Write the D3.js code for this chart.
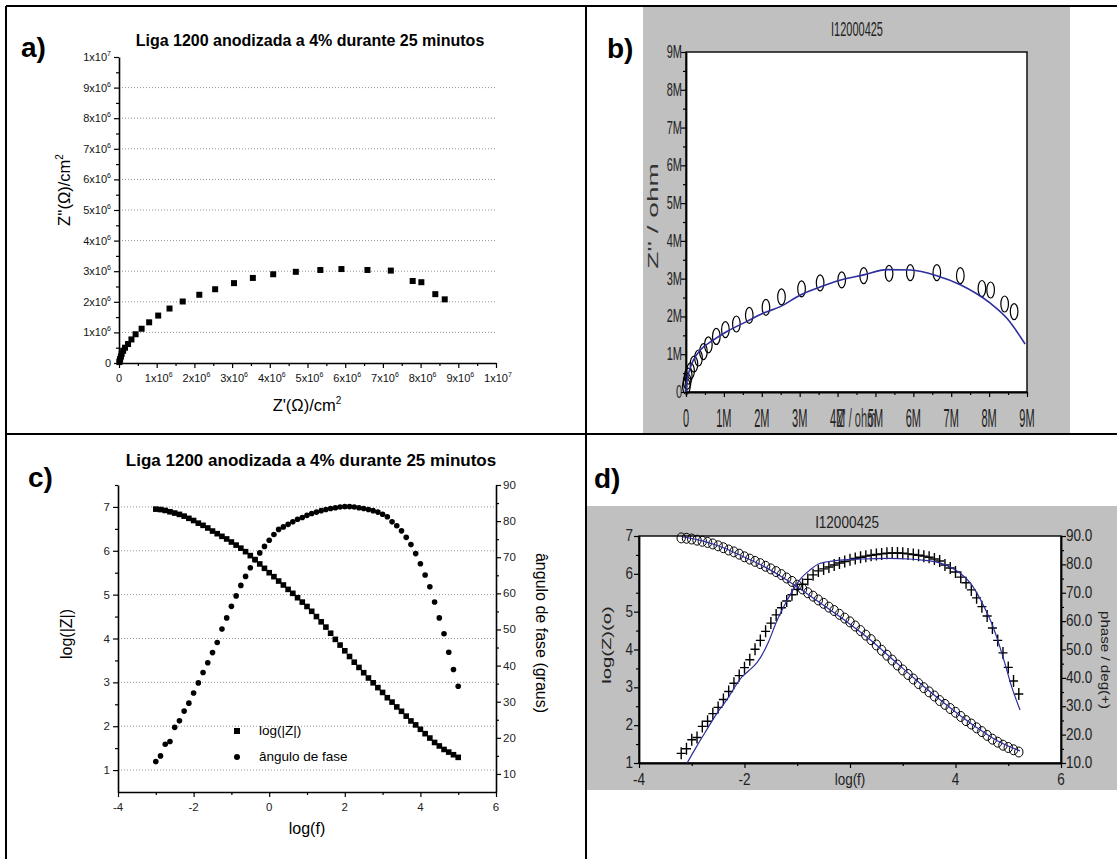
<!DOCTYPE html>
<html>
<head>
<meta charset="utf-8">
<script src="https://cdn.jsdelivr.net/npm/d3@7"></script>
<style>
  body { margin: 0; background: #fff; }
  svg { display: block; }
  text { font-family: "Liberation Sans", Arial, Helvetica, sans-serif; }
</style>
</head>
<body>
<svg id="fig" width="1117" height="859"></svg>
<script>
// ---------------- data ----------------
// Nyquist, panel a (values in 10^6 ohm/cm2)
const nyqA_re = [8.64,8.39,8.02,7.79,7.21,6.59,5.90,5.34,4.69,4.09,3.55,3.05,2.55,2.13,1.69,1.34,1.04,0.80,0.60,0.44,0.33,0.24,0.16,0.11,0.07,0.05,0.03,0.02,0.01];
const nyqA_im = [2.08,2.25,2.64,2.68,3.02,3.04,3.07,3.04,2.98,2.90,2.78,2.61,2.41,2.23,2.01,1.78,1.55,1.33,1.12,0.94,0.77,0.62,0.50,0.40,0.30,0.21,0.13,0.07,0.03];

// Nyquist, panel b (values in M ohm)
const nyqB_re = [8.66,8.41,8.04,7.81,7.24,6.62,5.92,5.36,4.69,4.11,3.54,3.05,2.52,2.11,1.67,1.33,1.04,0.80,0.59,0.46,0.33,0.21,0.12,0.06,0.03,0.01];
const nyqB_im = [2.13,2.33,2.70,2.74,3.08,3.16,3.16,3.14,3.08,2.97,2.89,2.73,2.52,2.24,2.03,1.80,1.65,1.47,1.25,1.07,0.90,0.74,0.56,0.42,0.28,0.15];
// fitted equivalent-circuit curve, panel b
const fitB_re = [0,0.02,0.07,0.2,0.38,0.73,1.08,1.61,2.05,2.49,3.02,3.54,4.11,4.69,5.30,5.92,6.62,7.24,8.03,8.47,8.95];
const fitB_im = [0,0.25,0.50,0.85,1.11,1.38,1.60,1.87,2.09,2.26,2.57,2.78,2.97,3.10,3.24,3.23,3.08,2.84,2.35,1.95,1.27];

// Bode data (panels c and d)
const bodeLogF = [-3,-2.875,-2.75,-2.625,-2.5,-2.375,-2.25,-2.125,-2,-1.875,-1.75,-1.625,-1.5,-1.375,-1.25,-1.125,-1,-0.875,-0.75,-0.625,-0.5,-0.375,-0.25,-0.125,0,0.125,0.25,0.375,0.5,0.625,0.75,0.875,1,1.125,1.25,1.375,1.5,1.625,1.75,1.875,2,2.125,2.25,2.375,2.5,2.625,2.75,2.875,3,3.125,3.25,3.375,3.5,3.625,3.75,3.875,4,4.125,4.25,4.375,4.5,4.625,4.75,4.875,5];
const bodeLogZ = [6.95,6.94,6.92,6.89,6.86,6.83,6.79,6.74,6.69,6.63,
                  6.58,6.52,6.45,6.39,6.33,6.27,6.20,6.13,6.06,5.98,
                  5.89,5.80,5.70,5.60,5.50,5.41,5.31,5.22,5.12,5.03,
                  4.93,4.83,4.73,4.62,4.50,4.38,4.26,4.12,3.98,3.85,
                  3.72,3.59,3.46,3.34,3.22,3.10,2.99,2.88,2.77,2.65,
                  2.55,2.44,2.34,2.23,2.12,2.03,1.93,1.83,1.73,1.63,
                  1.55,1.47,1.41,1.35,1.29];
const bodePhase = [13.4,15.0,18.2,19.0,22.9,24.7,27.4,29.6,32.4,35.2,
                   38.1,40.8,43.6,46.4,50.1,53.2,56.4,59.3,62.2,64.7,
                   67.1,69.3,71.2,73.0,74.7,76.3,77.7,78.4,79.1,79.8,
                   80.5,81.0,81.6,82.1,82.5,82.9,83.2,83.5,83.7,83.9,
                   84.0,84.0,83.9,83.7,83.5,83.2,82.9,82.5,81.9,81.2,
                   79.8,78.7,77.3,75.5,73.5,71.0,68.2,65.1,61.8,57.6,
                   53.2,48.8,43.7,38.9,34.3];
// fitted curves, panel d
const fitZ_logF = [-2.96,-2.5,-2,-1.5,-1,-0.5,0,0.5,1,1.5,2,2.5,3,3.5,4,4.5,5.03];
const fitZ_logZ = [6.98,6.87,6.69,6.44,6.17,5.84,5.46,5.07,4.67,4.24,3.75,3.26,2.79,2.35,1.94,1.58,1.32];
const fitP_logF = [-2.86,-2.64,-2.40,-2.15,-1.91,-1.70,-1.55,-1.40,-1.20,-1.05,-0.93,-0.75,-0.53,-0.35,-0.20,0.05,0.28,0.77,1.3,1.9,2.4,2.72,3.1,3.37,3.62,3.86,4.02,4.18,4.35,4.50,4.67,4.83,5.03];
const fitP_phase = [10,15.7,21.6,27.6,32.5,37.5,40.5,42.5,45.5,49,52.7,59.5,66.2,71,74.4,78,80.3,81.5,81.9,82.1,81.9,81.5,80.6,79.1,76.8,73.3,69.5,65.0,59.5,53.3,45.1,36.9,28.7];

// tick values and labels
const aTickVals = [0,1,2,3,4,5,6,7,8,9,10];
const aTickMant = ["0","1x10","2x10","3x10","4x10","5x10","6x10","7x10","8x10","9x10","1x10"];
const aTickExp  = ["","6","6","6","6","6","6","6","6","6","7"];
const aMinor = [0.5,1.5,2.5,3.5,4.5,5.5,6.5,7.5,8.5,9.5];
const aGrid = [1,2,3,4,5,6,7,8,9];

const bTickVals = [0,1,2,3,4,5,6,7,8,9];
const bTickLabels = ["0","1M","2M","3M","4M","5M","6M","7M","8M","9M"];
const bMinor = [0.5,1.5,2.5,3.5,4.5,5.5,6.5,7.5,8.5];

const cFTicks = [-4,-2,0,2,4,6];
const cFMinor = [-3,-1,1,3,5];
const cZTicks = [1,2,3,4,5,6,7];
const cZMinor = [1.5,2.5,3.5,4.5,5.5,6.5,7.5];
const cPTicks = [10,20,30,40,50,60,70,80,90];
const cPMinor = [15,25,35,45,55,65,75,85];

const dFTicks = [-4,-1.5,1,3.5,6];
const dFLabels = ["-4","-2","","4","6"];
const dFMinor = [-2.75,-0.25,2.25,4.75];
const dZTicks = [1,2,3,4,5,6,7];
const dZMinor = [1.5,2.5,3.5,4.5,5.5,6.5];
const dPTicks = [10,20,30,40,50,60,70,80,90];
const dPLabels = ["10.0","20.0","30.0","40.0","50.0","60.0","70.0","80.0","90.0"];
const dPMinor = [15,25,35,45,55,65,75,85];

const titleAC = "Liga 1200 anodizada a 4% durante 25 minutos";
const titleBD = "I12000425";

// ---------------- helpers ----------------
const svg = d3.select("#fig");
const BLUE = "#2d2d9e";
const GRAY = "#c0c0c0";

function addAxis(parent, orient, scale, translate, majorVals, minorVals, o) {
  const mk = {left: d3.axisLeft, right: d3.axisRight, bottom: d3.axisBottom, top: d3.axisTop}[orient];
  const g = parent.append("g").attr("transform", translate)
    .call(mk(scale).tickValues(majorVals).tickSize(o.major).tickSizeOuter(0).tickFormat(""));
  g.select(".domain").attr("stroke-width", o.w).attr("stroke", "#000");
  g.selectAll(".tick line").attr("stroke-width", o.tw).attr("stroke", "#000");
  const m = parent.append("g").attr("transform", translate)
    .call(mk(scale).tickValues(minorVals).tickSize(o.minor).tickSizeOuter(0).tickFormat(""));
  m.select(".domain").remove();
  m.selectAll(".tick line").attr("stroke-width", o.tw).attr("stroke", "#000");
  return g;
}

// text drawn in a transformed group (used for the stretched instrument-software lettering)
function sText(parent, x, y, str, o) {
  let tr = `translate(${x},${y}) scale(${o.sx || 1},${o.sy || 1})`;
  if (o.rot) tr += ` rotate(${o.rot})`;
  const t = parent.append("g").attr("transform", tr).append("text")
    .attr("text-anchor", o.anchor || "middle")
    .attr("font-size", o.size)
    .attr("fill", o.fill || "#000")
    .text(str);
  if (o.dy) t.attr("dy", o.dy);
  if (o.weight) t.attr("font-weight", o.weight);
  return t;
}

// ---------------- frame ----------------
const frame = svg.append("g").attr("stroke", "#000").attr("stroke-width", 2);
[[6,6,1117,6],[6,6,6,859],[586,6,586,859],[6,434,1117,434]].forEach(l =>
  frame.append("line").attr("x1", l[0]).attr("y1", l[1]).attr("x2", l[2]).attr("y2", l[3]));

// ================= panel a =================
{
  const g = svg.append("g");
  const x = d3.scaleLinear([0, 10], [119, 496]);
  const y = d3.scaleLinear([0, 10], [363, 57]);

  sText(g, 21, 57, "a)", {size: 28, anchor: "start", weight: "bold"});
  sText(g, 310, 46, titleAC, {size: 16, weight: "bold"});

  g.append("g").selectAll("line").data(aGrid).join("line")
    .attr("x1", x(0)).attr("x2", x(10)).attr("y1", d => y(d)).attr("y2", d => y(d))
    .attr("stroke", "#777").attr("stroke-width", 0.8).attr("stroke-dasharray", "1,2");

  const ax = {major: 5, minor: 3, w: 1.6, tw: 1.2};
  addAxis(g, "left", y, `translate(${x(0)},0)`, aTickVals, aMinor, ax);
  addAxis(g, "bottom", x, `translate(0,${y(0)})`, aTickVals, aMinor, ax);

  // y tick labels
  aTickVals.forEach((v, i) => {
    const t = g.append("text").attr("x", 111).attr("y", y(v) + 4)
      .attr("text-anchor", "end").attr("font-size", 11).attr("fill", "#111");
    t.append("tspan").text(aTickMant[i]);
    if (aTickExp[i]) t.append("tspan").attr("dy", -5).attr("font-size", 7).text(aTickExp[i]);
  });
  // x tick labels
  aTickVals.forEach((v, i) => {
    const t = g.append("text").attr("x", x(v) + (aTickExp[i] ? 2 : 0)).attr("y", 382)
      .attr("text-anchor", "middle").attr("font-size", 11).attr("fill", "#111");
    t.append("tspan").text(aTickMant[i]);
    if (aTickExp[i]) t.append("tspan").attr("dy", -5).attr("font-size", 7).text(aTickExp[i]);
  });

  // axis titles
  const xl = g.append("text").attr("x", 307).attr("y", 411).attr("text-anchor", "middle").attr("font-size", 16.5);
  xl.append("tspan").text("Z'(\u03A9)/cm");
  xl.append("tspan").attr("dy", -7).attr("font-size", 10).text("2");
  const yl = g.append("text").attr("transform", "translate(70,190) rotate(-90)").attr("text-anchor", "middle").attr("font-size", 16.5);
  yl.append("tspan").text("Z''(\u03A9)/cm");
  yl.append("tspan").attr("dy", -7).attr("font-size", 10).text("2");

  g.append("g").selectAll("rect").data(nyqA_re).join("rect")
    .attr("x", (d) => x(d) - 3).attr("y", (d, i) => y(nyqA_im[i]) - 3)
    .attr("width", 6).attr("height", 6).attr("fill", "#000");
}

// ================= panel b =================
{
  const g = svg.append("g");
  g.append("rect").attr("x", 643).attr("y", 7).attr("width", 427).attr("height", 426).attr("fill", GRAY);
  const x = d3.scaleLinear([0, 9], [686, 1027]);
  const y = d3.scaleLinear([0, 9], [392, 52]);
  g.append("rect").attr("x", x(0)).attr("y", y(9)).attr("width", x(9) - x(0)).attr("height", y(0) - y(9))
    .attr("fill", "#fff").attr("stroke", "#111").attr("stroke-width", 1.5);

  sText(g, 607, 58, "b)", {size: 28, anchor: "start", weight: "bold"});
  sText(g, 857, 36, titleBD, {size: 11, sy: 1.9, fill: "#222"});

  const ax = {major: 5, minor: 3, w: 1.8, tw: 1.2};
  addAxis(g, "left", y, `translate(${x(0)},0)`, bTickVals, bMinor, ax);
  addAxis(g, "bottom", x, `translate(0,${y(0)})`, bTickVals, bMinor, ax);

  bTickVals.forEach((v, i) => {
    sText(g, 682, y(v) + 6, bTickLabels[i], {size: 11, sy: 1.6, anchor: "end", fill: "#222"});
    sText(g, x(v), 427, bTickLabels[i], {size: 11, sy: 2.4, fill: "#222"});
  });
  // the software centres the axis title on the axis, over the middle tick labels
  sText(g, (x(0) + x(9)) / 2, 427, "Z' / ohm", {size: 11, sy: 2.4, fill: "#333"});
  sText(g, 658, 216, "Z'' / ohm", {size: 14, sy: 2.0, rot: -90, fill: "#333"});

  g.append("g").selectAll("ellipse").data(nyqB_re).join("ellipse")
    .attr("cx", d => x(d)).attr("cy", (d, i) => y(nyqB_im[i]))
    .attr("rx", 3.8).attr("ry", 8).attr("fill", "none").attr("stroke", "#000").attr("stroke-width", 1.2);

  const line = d3.line().x(d => x(d[0])).y(d => y(d[1])).curve(d3.curveMonotoneX);
  g.append("path").datum(fitB_re.map((d, i) => [d, fitB_im[i]]))
    .attr("d", line).attr("fill", "none").attr("stroke", BLUE).attr("stroke-width", 1.6);
}

// ================= panel c =================
{
  const g = svg.append("g");
  const x = d3.scaleLinear([-4, 6], [118, 496]);
  const yL = d3.scaleLinear([0.5, 7.5], [792, 485]);
  const yR = d3.scaleLinear([5, 90], [792, 485]);

  sText(g, 28, 487, "c)", {size: 28, anchor: "start", weight: "bold"});
  sText(g, 311, 466, titleAC, {size: 17, weight: "bold"});

  g.append("g").selectAll("line").data(cZTicks).join("line")
    .attr("x1", x(-4)).attr("x2", x(6)).attr("y1", d => yL(d)).attr("y2", d => yL(d))
    .attr("stroke", "#777").attr("stroke-width", 0.8).attr("stroke-dasharray", "1,2");

  const ax = {major: 5, minor: 3, w: 1.6, tw: 1.2};
  addAxis(g, "left", yL, `translate(${x(-4)},0)`, cZTicks, cZMinor, ax);
  addAxis(g, "right", yR, `translate(${x(6)},0)`, cPTicks, cPMinor, ax);
  addAxis(g, "bottom", x, `translate(0,${yL(0.5)})`, cFTicks, cFMinor, ax);

  cZTicks.forEach(v => g.append("text").attr("x", 110).attr("y", yL(v) + 4)
    .attr("text-anchor", "end").attr("font-size", 11.5).attr("fill", "#222").text(v));
  cPTicks.forEach(v => g.append("text").attr("x", 503).attr("y", yR(v) + 4)
    .attr("text-anchor", "start").attr("font-size", 11.5).attr("fill", "#222").text(v));
  cFTicks.forEach(v => g.append("text").attr("x", x(v)).attr("y", 811)
    .attr("text-anchor", "middle").attr("font-size", 11.5).attr("fill", "#222").text(v));

  g.append("text").attr("x", 307).attr("y", 834).attr("text-anchor", "middle").attr("font-size", 16).text("log(f)");
  g.append("text").attr("transform", "translate(72,634) rotate(-90)").attr("text-anchor", "middle").attr("font-size", 16).text("log(|Z|)");
  g.append("text").attr("transform", "translate(536,633) rotate(90)").attr("text-anchor", "middle").attr("font-size", 16).text("\u00e2ngulo de fase (graus)");

  g.append("g").selectAll("rect").data(bodeLogF).join("rect")
    .attr("x", d => x(d) - 2.8).attr("y", (d, i) => yL(bodeLogZ[i]) - 2.8)
    .attr("width", 5.6).attr("height", 5.6).attr("fill", "#000");
  g.append("g").selectAll("circle").data(bodeLogF).join("circle")
    .attr("cx", d => x(d)).attr("cy", (d, i) => yR(bodePhase[i])).attr("r", 2.8).attr("fill", "#000");

  // legend
  g.append("rect").attr("x", 237 - 3).attr("y", 731 - 3).attr("width", 6).attr("height", 6).attr("fill", "#000");
  g.append("circle").attr("cx", 237).attr("cy", 757).attr("r", 3).attr("fill", "#000");
  g.append("text").attr("x", 259).attr("y", 735).attr("font-size", 13.5).text("log(|Z|)");
  g.append("text").attr("x", 259).attr("y", 761).attr("font-size", 13.5).text("\u00e2ngulo de fase");
}

// ================= panel d =================
{
  const g = svg.append("g");
  g.append("rect").attr("x", 587).attr("y", 506).attr("width", 530).attr("height", 284).attr("fill", GRAY);
  const x = d3.scaleLinear([-4, 6], [639, 1061]);
  const yL = d3.scaleLinear([1, 7], [763, 536]);
  const yR = d3.scaleLinear([10, 90], [763, 536]);
  g.append("rect").attr("x", x(-4)).attr("y", yL(7)).attr("width", x(6) - x(-4)).attr("height", yL(1) - yL(7))
    .attr("fill", "#fff").attr("stroke", "#111").attr("stroke-width", 1.5);

  sText(g, 594, 488, "d)", {size: 28, anchor: "start", weight: "bold"});
  sText(g, 847, 528, titleBD, {size: 13.5, sy: 1.25, fill: "#222"});

  const ax = {major: 5, minor: 3, w: 1.8, tw: 1.2};
  addAxis(g, "left", yL, `translate(${x(-4)},0)`, dZTicks, dZMinor, ax);
  addAxis(g, "right", yR, `translate(${x(6)},0)`, dPTicks, dPMinor, ax);
  addAxis(g, "bottom", x, `translate(0,${yL(1)})`, dFTicks, dFMinor, ax);

  dZTicks.forEach(v => sText(g, 633, yL(v) + 5, String(v), {size: 13.5, sy: 1.25, anchor: "end", fill: "#222"}));
  dPTicks.forEach((v, i) => sText(g, 1066, yR(v) + 5, dPLabels[i], {size: 13.5, sy: 1.25, anchor: "start", fill: "#222"}));
  dFTicks.forEach((v, i) => { if (dFLabels[i]) sText(g, x(v), 785, dFLabels[i], {size: 13.5, sy: 1.25, fill: "#222"}); });
  sText(g, x(1), 785, "log(f)", {size: 13.5, sy: 1.25, fill: "#222"});
  sText(g, 611, 645, "log(Z)(o)", {size: 13.5, sy: 1.5, rot: -90, fill: "#222"});
  sText(g, 1101, 660, "phase / deg(+)", {size: 13.5, sy: 1.12, rot: 90, fill: "#222"});

  // |Z| markers (open circles)
  g.append("g").selectAll("ellipse").data(bodeLogF).join("ellipse")
    .attr("cx", d => x(d)).attr("cy", (d, i) => yL(bodeLogZ[i]))
    .attr("rx", 4.2).attr("ry", 5).attr("fill", "none").attr("stroke", "#000").attr("stroke-width", 1);
  // phase markers (plus signs)
  g.append("g").selectAll("path").data(bodeLogF).join("path")
    .attr("d", (d, i) => {
      const cx = x(d), cy = yR(bodePhase[i]);
      return `M${cx - 4.5},${cy}H${cx + 4.5}M${cx},${cy - 6}V${cy + 6}`;
    })
    .attr("stroke", "#000").attr("stroke-width", 1.4).attr("fill", "none");

  const lineZ = d3.line().x(d => x(d[0])).y(d => yL(d[1])).curve(d3.curveMonotoneX);
  const lineP = d3.line().x(d => x(d[0])).y(d => yR(d[1])).curve(d3.curveMonotoneX);
  g.append("path").datum(fitZ_logF.map((d, i) => [d, fitZ_logZ[i]]))
    .attr("d", lineZ).attr("fill", "none").attr("stroke", BLUE).attr("stroke-width", 1.2);
  g.append("path").datum(fitP_logF.map((d, i) => [d, fitP_phase[i]]))
    .attr("d", lineP).attr("fill", "none").attr("stroke", BLUE).attr("stroke-width", 1.2);
}
</script>
</body>
</html>
